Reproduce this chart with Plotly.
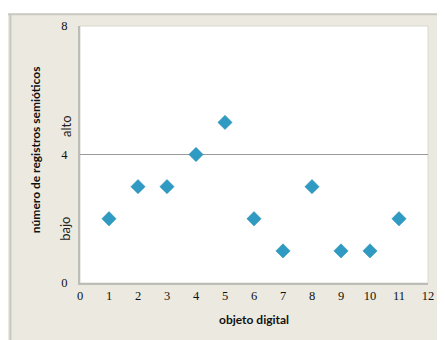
import plotly.graph_objects as go

# objeto digital vs número de registros semióticos
objetos = [1, 2, 3, 4, 5, 6, 7, 8, 9, 10, 11]
registros = [2, 3, 3, 4, 5, 2, 1, 3, 1, 1, 2]
umbral = 4
y_ticks = [0, 4, 8]
x_ticks = list(range(0, 13))

fig = go.Figure(
    go.Scatter(
        x=objetos,
        y=registros,
        mode="markers",
        marker=dict(symbol="diamond", size=11, color="#2F9BC2",
                    line=dict(color="#2A8DB3", width=0.5)),
        showlegend=False,
        hoverinfo="x+y",
    )
)

beige = "#ECEAE0"
# page body has an 8px margin, so the figure is 8px smaller each way
fig.update_layout(
    width=437,
    height=332,
    margin=dict(l=72, r=11, t=16, b=57),
    paper_bgcolor="white",
    plot_bgcolor="white",
    font=dict(family="Liberation Serif", size=12, color="#333"),
    shapes=[
        # beige chart frame
        dict(type="rect", xref="paper", yref="paper", x0=-0.21, x1=1.05,
             y0=-0.25, y1=1.046, fillcolor=beige, line=dict(width=0), layer="below"),
        dict(type="line", xref="paper", yref="paper", x0=-0.21, x1=1.05,
             y0=1.046, y1=1.046, line=dict(color="#C8C8C0", width=2), layer="below"),
        dict(type="line", xref="paper", yref="paper", x0=-0.2, x1=-0.2,
             y0=-0.25, y1=1.046, line=dict(color="#C8C8C0", width=2), layer="below"),
        # white plot area
        dict(type="rect", xref="paper", yref="paper", x0=0, x1=1, y0=0, y1=1,
             fillcolor="white", line=dict(color="#D8D8D0", width=1), layer="below"),
        # threshold line
        dict(type="line", xref="paper", yref="y", x0=0, x1=1, y0=umbral, y1=umbral,
             line=dict(color="#9A9A9A", width=1), layer="below"),
    ],
    xaxis=dict(
        range=[0, 12], tickvals=x_ticks, showgrid=False, zeroline=False,
        showline=True, linecolor="#BDBDB8", linewidth=2, ticks="",
        tickfont=dict(family="Liberation Serif", size=12.5, color="#111"),
        fixedrange=True,
    ),
    yaxis=dict(
        range=[0, 8], tickvals=y_ticks, showgrid=False, zeroline=False,
        showline=True, linecolor="#BDBDB8", linewidth=2, ticks="",
        tickfont=dict(family="Liberation Serif", size=12.5, color="#111"),
        ticklabelstandoff=8, fixedrange=True,
    ),
    annotations=[
        dict(text="<b>objeto digital</b>", xref="paper", yref="paper", x=0.5, y=-0.143,
             xanchor="center", yanchor="middle", showarrow=False,
             font=dict(family="Lato", size=12, color="#111")),
        dict(text="<b>número de registros semióticos</b>", xref="paper", yref="paper",
             x=-0.127, y=0.52, xanchor="center", yanchor="middle", textangle=-90,
             showarrow=False, font=dict(family="Lato", size=12, color="#111")),
        dict(text="alto", xref="paper", yref="y", x=-0.042, y=4.9, textangle=-90,
             xanchor="center", yanchor="middle", showarrow=False,
             font=dict(family="Lato", size=13, color="#222")),
        dict(text="bajo", xref="paper", yref="y", x=-0.042, y=1.7, textangle=-90,
             xanchor="center", yanchor="middle", showarrow=False,
             font=dict(family="Lato", size=13, color="#222")),
    ],
)

fig.write_html("out.html")
